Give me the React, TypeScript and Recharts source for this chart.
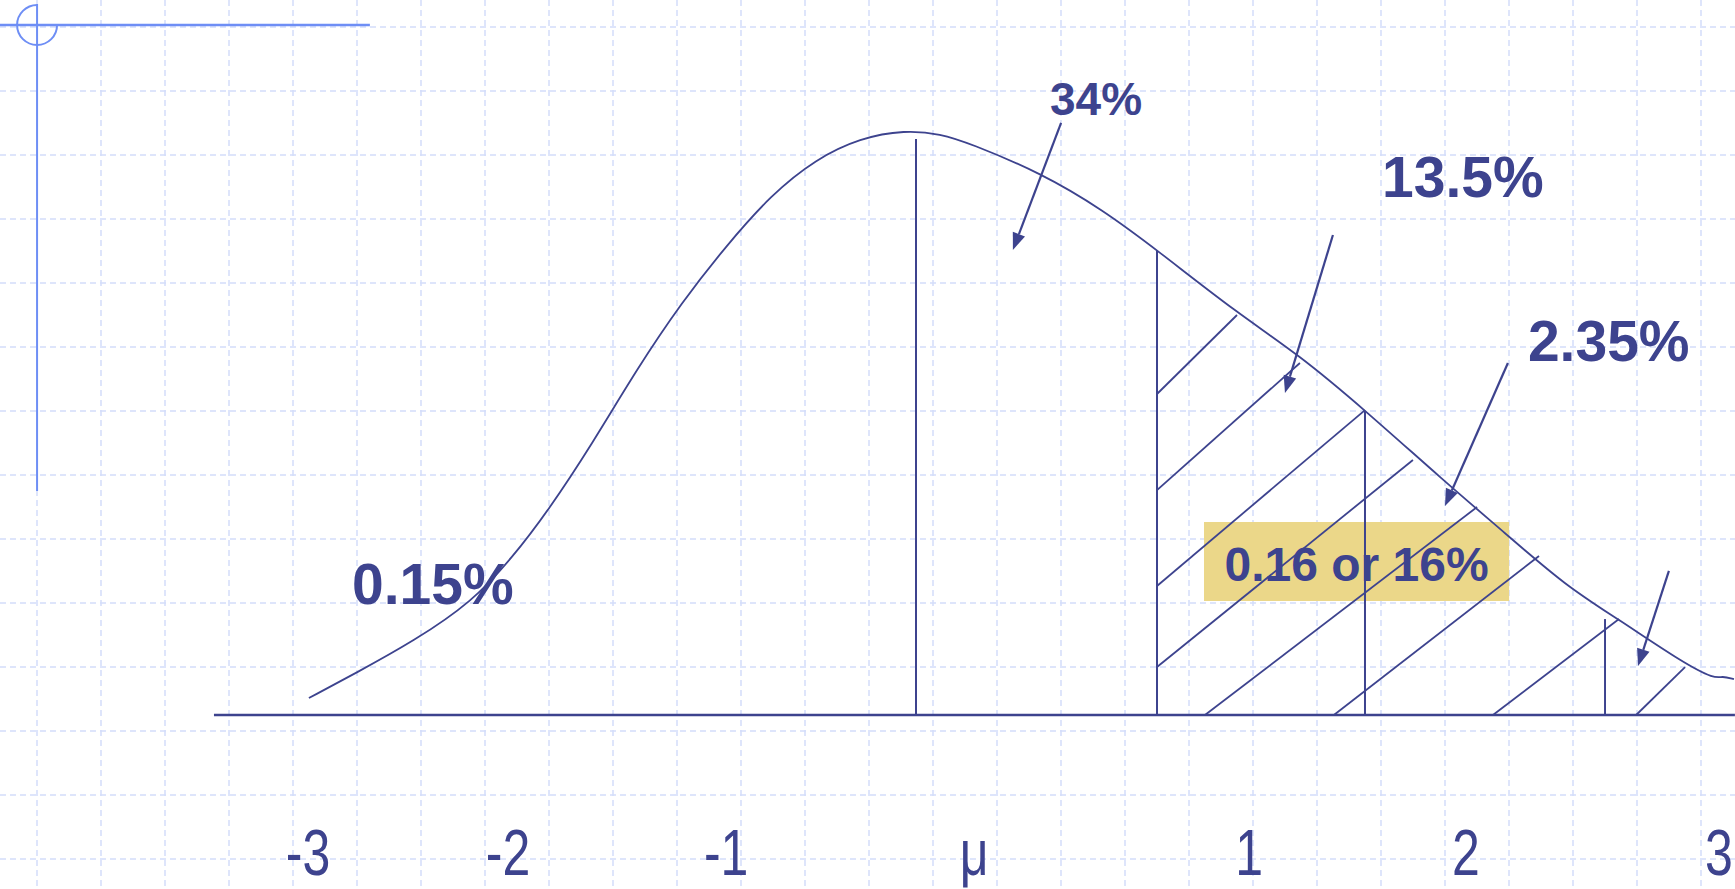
import {
  ComposedChart,
  Line,
  XAxis,
  YAxis,
  CartesianGrid,
  ReferenceLine,
  ReferenceDot,
  ReferenceArea,
} from "recharts";

const W = 1735;
const H = 889;
const INK = "#3D438E";
const DECO = "#6E8EF5";

// x in sigma units (mu = 0), y in density units
const xDomain = [-3.8008, 3.3983];
const yDomain = [-0.11897, 0.48889];

const curveX = [
  -2.519, -2.324, -2.083, -1.842, -1.676, -1.527, -1.344, -1.158, -0.971, -0.788,
  -0.602, -0.415, -0.232, -0.046, 0.104, 0.22, 0.519, 0.776, 1.0, 1.332, 1.585,
  1.863, 2.191, 2.444, 2.697, 2.913, 3.183, 3.315, 3.344, 3.394,
];
const curveY = [
  0.0116, 0.0287, 0.0506, 0.0773, 0.1074, 0.1395, 0.1853, 0.2366, 0.2824, 0.3207,
  0.3556, 0.3802, 0.3945, 0.4, 0.3973, 0.3911, 0.3706, 0.3453, 0.3179, 0.2749,
  0.2468, 0.2085, 0.16, 0.1244, 0.0882, 0.0656, 0.0356, 0.0246, 0.0267, 0.0246,
];
const curve = curveX.map((x, i) => ({ x, y: curveY[i] }));

// vertical dividers under the curve
const dividerX = [0, 1.0, 1.863, 2.859];
const dividerTop = [0.3938, 0.3173, 0.2079, 0.0656];

// hatching in the right tail
const hatchStart = [
  [1.0, 0.2195], [1.0, 0.1538], [1.0, 0.0882], [1.0, 0.0328],
  [1.199, 0], [1.734, 0], [2.394, 0], [2.988, 0],
];
const hatchEnd = [
  [1.332, 0.2735], [1.593, 0.2407], [1.863, 0.2085], [2.062, 0.1744],
  [2.328, 0.1422], [2.585, 0.1087], [2.917, 0.0656], [3.191, 0.0328],
];

const arrowStart = [[0.602, 0.4048], [1.73, 0.3282], [2.456, 0.2407], [3.124, 0.0985]];
const arrowEnd = [[0.402, 0.3179], [1.531, 0.2202], [2.195, 0.1429], [2.996, 0.0335]];

const pctLabels = ["34%", "13.5%", "2.35%", "0.15%"];
const pctAt = [[0.556, 0.4103], [1.934, 0.3542], [2.539, 0.2421], [-2.34, 0.0759]];
const pctSize = [46, 57, 57, 57];

const boxLabel = "0.16 or 16%";
const boxX = [1.195, 2.461];
const boxY = [0.0779, 0.132];
const boxTextAt = [1.828, 0.0916];

const tickLabels = ["-3", "-2", "-1", "μ", "1", "2", "3"];
const tickX = [-2.523, -1.693, -0.788, 0.241, 1.382, 2.282, 3.332];
const tickY = -0.1095;

const baseline = [[-2.913, 0], [3.398, 0]];

// slide corner decoration
const decoV = [[-3.647, 0.4862], [-3.647, 0.1532]];
const decoH = [[-3.8008, 0.4718], [-2.266, 0.4718]];

const gridX = Array.from({ length: 27 }, (_, k) => 37 + 64 * k);
const gridY = Array.from({ length: 14 }, (_, k) => 27 + 64 * k);

const seg = (a: number[], b: number[]) => [
  { x: a[0], y: a[1] },
  { x: b[0], y: b[1] },
];

const ArrowShape = (p: any) => {
  const { x1, y1, x2, y2 } = p;
  const dx = x2 - x1;
  const dy = y2 - y1;
  const len = Math.hypot(dx, dy) || 1;
  const ux = dx / len;
  const uy = dy / len;
  const hl = 17;
  const hw = 6.5;
  const bx = x2 - ux * hl;
  const by = y2 - uy * hl;
  return (
    <g>
      <line x1={x1} y1={y1} x2={bx} y2={by} stroke={INK} strokeWidth={2.2} />
      <polygon
        points={`${x2},${y2} ${bx - uy * hw},${by + ux * hw} ${bx + uy * hw},${by - ux * hw}`}
        fill={INK}
      />
    </g>
  );
};

const textShape = (label: string, size: number, anchor: string) => (p: any) => (
  <text
    x={p.cx}
    y={p.cy}
    fill={INK}
    fontSize={size}
    fontWeight="bold"
    fontFamily="'Liberation Sans', Arial, sans-serif"
    textAnchor={anchor}
  >
    {label}
  </text>
);

const tickShape = (label: string) => (p: any) => (
  <text
    transform={`translate(${p.cx},${p.cy}) scale(1,1.3)`}
    x={0}
    y={0}
    fill={INK}
    fontSize={50}
    fontFamily="'Liberation Sans', Arial, sans-serif"
    textAnchor="middle"
  >
    {label}
  </text>
);

const arcShape = (p: any) => (
  <path
    d={`M ${p.cx} ${p.cy - 20} A 20 20 0 1 0 ${p.cx + 20} ${p.cy}`}
    fill="none"
    stroke={DECO}
    strokeWidth={2}
  />
);

export default function App() {
  return (
    <div style={{ position: "absolute", left: 0, top: 0, width: W, height: H, background: "#fff" }}>
      <ComposedChart width={W} height={H} margin={{ top: 0, right: 0, bottom: 0, left: 0 }}>
        <CartesianGrid
          verticalPoints={gridX}
          horizontalPoints={gridY}
          stroke="#D3DDFA"
          strokeDasharray="6 4"
          strokeWidth={1.5}
        />
        <XAxis type="number" dataKey="x" domain={xDomain} allowDataOverflow hide />
        <YAxis type="number" domain={yDomain} allowDataOverflow hide />

        <ReferenceLine segment={seg(decoV[0], decoV[1])} stroke={DECO} strokeWidth={2} ifOverflow="visible" />
        <ReferenceLine segment={seg(decoH[0], decoH[1])} stroke={DECO} strokeWidth={2.5} ifOverflow="visible" />
        <ReferenceDot x={decoV[0][0]} y={decoH[0][1]} r={20} shape={arcShape} ifOverflow="visible" />

        {hatchStart.map((s, i) => (
          <ReferenceLine key={`h${i}`} segment={seg(s, hatchEnd[i])} stroke={INK} strokeWidth={1.8} ifOverflow="visible" />
        ))}

        <ReferenceArea
          x1={boxX[0]}
          x2={boxX[1]}
          y1={boxY[0]}
          y2={boxY[1]}
          fill="#EBD789"
          fillOpacity={1}
          stroke="none"
          ifOverflow="visible"
        />

        {dividerX.map((x, i) => (
          <ReferenceLine key={`d${i}`} segment={seg([x, 0], [x, dividerTop[i]])} stroke={INK} strokeWidth={2} ifOverflow="visible" />
        ))}

        <ReferenceLine segment={seg(baseline[0], baseline[1])} stroke={INK} strokeWidth={2.5} ifOverflow="visible" />

        <Line
          data={curve}
          dataKey="y"
          type="basis"
          dot={false}
          activeDot={false}
          stroke={INK}
          strokeWidth={1.8}
          isAnimationActive={false}
        />

        {arrowStart.map((s, i) => (
          <ReferenceLine key={`a${i}`} segment={seg(s, arrowEnd[i])} shape={ArrowShape} ifOverflow="visible" />
        ))}

        {pctLabels.map((l, i) => (
          <ReferenceDot key={`p${i}`} x={pctAt[i][0]} y={pctAt[i][1]} r={1} shape={textShape(l, pctSize[i], "start")} ifOverflow="visible" />
        ))}

        <ReferenceDot x={boxTextAt[0]} y={boxTextAt[1]} r={1} shape={textShape(boxLabel, 48, "middle")} ifOverflow="visible" />

        {tickLabels.map((l, i) => (
          <ReferenceDot key={`t${i}`} x={tickX[i]} y={tickY} r={1} shape={tickShape(l)} ifOverflow="visible" />
        ))}
      </ComposedChart>
    </div>
  );
}
